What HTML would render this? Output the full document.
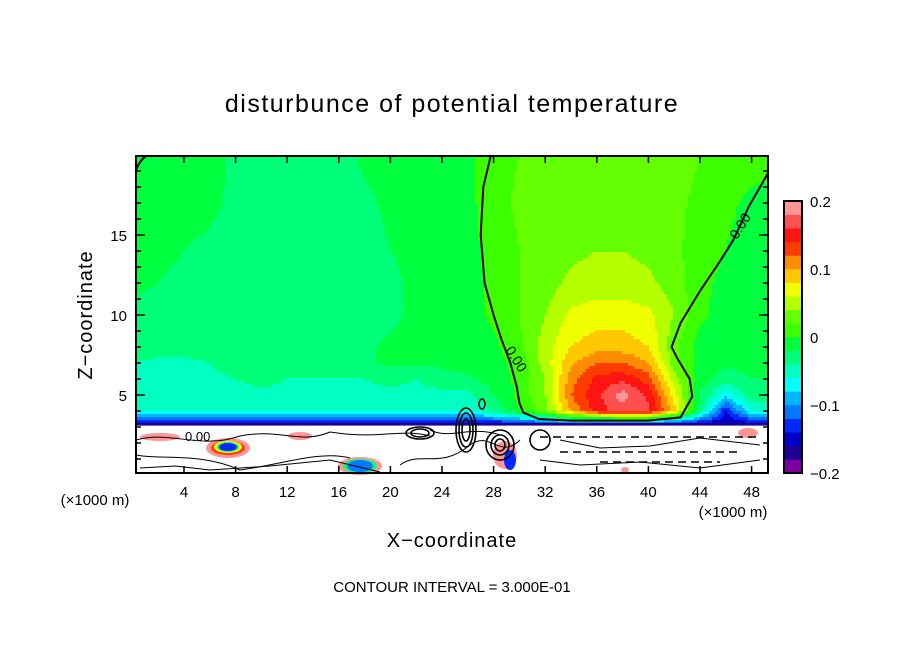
<!DOCTYPE html>
<html><head><meta charset="utf-8">
<style>
html,body{margin:0;padding:0;background:#fff;}
svg{display:block;font-family:"Liberation Sans",sans-serif;}
</style></head>
<body>
<svg id="chart" width="904" height="654" viewBox="0 0 904 654" xmlns="http://www.w3.org/2000/svg">
<rect width="904" height="654" fill="#fff"/>
<text x="452" y="112" font-size="25" text-anchor="middle" letter-spacing="1.5">disturbunce of potential temperature</text>
<g id="field"></g>
<g id="lower"></g>
<g id="contours"></g>
<g id="axes"></g>
<g id="cbar"></g>
<text x="95" y="505" font-size="15" text-anchor="middle">(×1000 m)</text>
<text x="733" y="517" font-size="15" text-anchor="middle">(×1000 m)</text>
<text x="452" y="547" font-size="20" text-anchor="middle" letter-spacing="1">X−coordinate</text>
<text transform="translate(92,315) rotate(-90)" font-size="20" text-anchor="middle" letter-spacing="1">Z−coordinate</text>
<text x="452" y="592" font-size="15" text-anchor="middle">CONTOUR INTERVAL = 3.000E-01</text>
</svg>
<script>
const xNodes=[0,2,4,6,8,10,12,14,16,18,20,22,24,26,28,30,32,34,36,38,40,42,44,46,48,50];
const zNodes=[3.3,4,5,6,7,8,10,12,14,17,20];
// values in hundredths, one row per zNode
const row0=[-13,-13,-13,-13,-13,-13,-13,-13,-13,-13,-13,-13,-13,-13,-13,-12,-10,-8,-8,-8,-8,-10,-13,-16,-14,-13];
const row1=[-6,-6,-6,-6,-6,-6,-6,-6,-6,-6,-6,-6,-6,-6,-4,0,3,10,15,17,16.5,9,-3,-14,-6,-5];
const row2=[-5,-5,-5,-5,-4.5,-4.5,-4.5,-4.5,-4.5,-4.5,-4.5,-4.5,-4.5,-4.5,-2,0.5,4,12,15.5,19,15.5,7,-2,-7,-3,-2.5];
const row3=[-4.5,-4.5,-4.5,-4.5,-4,-3.5,-4,-4,-4,-4,-3.5,-4,-3,-2.5,-1,0.5,4,11,14.5,15.5,13,5,-1,-3,-2,-2];
const row4=[-4,-4.5,-4.5,-4,-3,-3,-3,-3,-3,-2.5,-1.5,-1.5,-1.5,-1,-0.5,0.5,5,9.5,12,12,10,3,-1,-1.5,-1.5,-1.5];
const row5=[-3,-3,-3,-3,-3,-3,-3,-3,-3,-2.5,-1.5,-1.5,-1,-1,-0.5,1.5,5,8,9,9,8,2.5,-1,-1,-1,-1];
const row6=[-2.5,-3,-3,-3,-3,-3,-3,-3,-3,-3,-2.5,-1.5,-1,-1,0.5,2,4,6.5,7,7,6.5,4,0.5,-1,-1,-1];
const row7=[-1.5,-2,-2.5,-3,-3,-3,-3,-3,-3,-3,-2.5,-1.5,-1,-0.5,0.3,2,3,4.5,5,5,4.5,3,0.5,-0.5,-1,-1];
const row8=[-1.5,-1.5,-2,-2.5,-3,-3,-3,-3,-3,-3,-2,-1.5,-1,-0.5,0.5,2,3,3.5,4,4,3.5,2.5,1,0,-1,-1];
const row9=[-1,-1,-1,-1.5,-2.5,-3,-3,-3,-3,-2.5,-1.5,-1,-1,-0.5,1,2.5,3,3,3,3,3,2.5,1.5,0.5,-0.5,-1];
const row10=[-0.5,-1,-1,-1,-2.5,-3,-3,-3,-3,-1.5,-1,-1,-1,-0.5,1,2,3,3,3,3,3,3,2,1,1,1];
const rows=[row0,row1,row2,row3,row4,row5,row6,row7,row8,row9,row10];
const levelColors=["#7a00a0","#1e0096","#0000c8","#0028ff","#0078ff","#00b4ff","#00ffff","#00ffc0","#00ff78","#00ff3c","#3cff00","#64ff00","#b4ff00","#f0ff00","#ffc800","#ff8c00","#ff3c00","#ff1414","#ff5050","#ff9696"];
const cbarTicks=[-0.2,-0.1,0,0.1,0.2];
const cbarTickLabels=["−0.2","−0.1","0","0.1","0.2"];
const xTicks=[4,8,12,16,20,24,28,32,36,40,44,48];
const zTicks=[5,10,15];
const contourX=[27.8,27.2,27.0,27.3,28.0,28.6,29.3,29.8,30.0,30.3,31.5,34,37,40,42.5,43.4,43.2,42.3,41.8,42.5,44,45.5,46.6,47.8,49.3,50.2];
const contourZ=[20,18,15,12,10,8.5,7,5.5,4.5,3.9,3.5,3.4,3.4,3.4,3.6,4.9,6,7.2,8,9.5,11.5,13.3,14.7,16.8,18.9,19.4];

const NS="http://www.w3.org/2000/svg";
const L=136,R=768,T=156,B=473;
const xs=k=>132.4+12.9*k;
const zs=z=>475-16*z;
function mk(tag,attrs,parent){const e=document.createElementNS(NS,tag);for(const k in attrs)e.setAttribute(k,attrs[k]);parent.appendChild(e);return e;}
function colorFor(v){let i=Math.floor((v/100+0.2)/0.02);i=Math.max(0,Math.min(19,i));return levelColors[i];}
function sample(km,z){
  let i=0;while(i<xNodes.length-2&&km>xNodes[i+1])i++;
  let j=0;while(j<zNodes.length-2&&z>zNodes[j+1])j++;
  let tx=(km-xNodes[i])/(xNodes[i+1]-xNodes[i]);tx=Math.max(0,Math.min(1,tx));
  let tz=(z-zNodes[j])/(zNodes[j+1]-zNodes[j]);tz=Math.max(0,Math.min(1,tz));
  const a=rows[j][i],b=rows[j][i+1],c=rows[j+1][i],d=rows[j+1][i+1];
  return (a*(1-tx)+b*tx)*(1-tz)+(c*(1-tx)+d*tx)*tz;
}
// field
const field=document.getElementById('field');
const cell=3;
const zBot=zs(3.15);
function flush(x0,x1,y,h,col){
  if(!col||x1<=x0)return;
  const r=mk('rect',{x:x0,y:y,width:x1-x0+0.3,height:h+0.3,fill:col},field);
  
  
}
for(let y=T;y<zBot;y+=cell){
  const h=Math.min(cell,zBot-y);
  const z=(475-(y+h/2))/16;
  let runStart=L,runCol=null;
  for(let x=L;x<R;x+=cell){
    const km=(x+cell/2-132.4)/12.9;
    const col=colorFor(sample(km,z));
    if(col!==runCol){flush(runStart,x,y,h,runCol);runStart=x;runCol=col;}
  }
  flush(runStart,R,y,h,runCol);
}
// lower chaotic layer (decorative)
const lower=document.getElementById('lower');
mk('rect',{x:L,y:zBot,width:R-L,height:B-zBot,fill:"#fff"},lower);
mk('rect',{x:L,y:zBot-2,width:R-L,height:3,fill:"#1e0096"},lower);
const blobs=[[228,448,22,10,"#ff9696"],[228,448,17,7,"#ff3c00"],[228,447,14,6,"#f0ff00"],[228,447,11,5,"#00ff78"],[228,447,9,4,"#0028ff"],[360,466,22,9,"#ff9696"],[360,466,17,7,"#00ff78"],[360,466,13,6,"#0078ff"],[160,437,20,4,"#ff9696"],[300,436,12,4,"#ff9696"],[505,455,12,14,"#ff9696"],[510,460,6,10,"#0028ff"],[748,433,10,5,"#ff9696"],[625,470,4,3,"#ff9696"]];
blobs.forEach(b=>{const e=mk('ellipse',{cx:b[0],cy:b[1],rx:b[2],ry:b[3],fill:b[4]},lower);
  
  });
const lines=["M136,440 C170,430 200,450 240,436 C280,428 300,445 330,432 C380,440 400,428 430,436","M136,455 C160,460 200,452 240,470 C280,465 320,450 350,458","M140,468 L175,466 L210,470 L270,466 L330,460 L380,472","M400,465 C420,450 440,470 470,445 C490,430 500,460 520,440","M560,440 L600,448 L650,446 L700,438 L760,445","M540,460 L580,465 L640,462 L700,468 L760,460","M430,430 C450,440 470,425 500,435"];
lines.forEach(d=>{const e=mk('path',{d:d,fill:"none",stroke:"#000","stroke-width":1},lower);
  
  });
const dashes=["M540,437 L760,437","M560,452 L740,452","M600,462 L720,462"];
dashes.forEach(d=>{const e=mk('path',{d:d,fill:"none",stroke:"#000","stroke-width":1.5,"stroke-dasharray":"8 5"},lower);
  
  });
const rings=[[466,430,10,22],[466,430,7,17],[466,430,4,11],[420,433,14,6],[420,433,9,4],[500,445,14,15],[500,445,9,10],[500,445,5,6],[540,440,10,10]];
rings.forEach(r=>{const e=mk('ellipse',{cx:r[0],cy:r[1],rx:r[2],ry:r[3],fill:"none",stroke:"#000","stroke-width":1.6},lower);
  
  });
mk('text',{x:185,y:441,"font-size":13},lower).textContent="0.00";
// zero contour
const cg=document.getElementById('contours');
const clip=mk('clipPath',{id:"pc"},cg);mk('rect',{x:L,y:T,width:R-L,height:B-T},clip);
const pts=contourX.map((x,i)=>xs(x).toFixed(1)+","+zs(contourZ[i]).toFixed(1)).join(" ");
const pl=mk('polyline',{points:pts,fill:"none",stroke:"#000","stroke-width":2,"clip-path":"url(#pc)"},cg);


const lab1=mk('text',{transform:"translate(505,350) rotate(58)","font-size":14},cg);lab1.textContent="0.00";


const lab2=mk('text',{transform:"translate(737,240) rotate(-58)","font-size":14},cg);lab2.textContent="0.00";


mk('path',{d:"M136,170 Q140,160 146,156",fill:"none",stroke:"#000","stroke-width":2},cg);
mk('ellipse',{cx:482,cy:404,rx:3,ry:5,fill:"none",stroke:"#000","stroke-width":1.5},cg);
// axes
const ax=document.getElementById('axes');
const frame=mk('rect',{x:L,y:T,width:R-L,height:B-T,fill:"none",stroke:"#000","stroke-width":2},ax);


xTicks.forEach(t=>{
  const x=xs(t);
  mk('line',{x1:x,y1:B,x2:x,y2:B-7,stroke:"#000","stroke-width":1.5},ax);
  mk('line',{x1:x,y1:T,x2:x,y2:T+7,stroke:"#000","stroke-width":1.5},ax);
  const tx=mk('text',{x:x,y:497,"font-size":15,"text-anchor":"middle"},ax);tx.textContent=t;
  
  
});
for(let z=1;z<20;z++){
  const y=zs(z);const len=z%5===0?9:5;
  mk('line',{x1:L,y1:y,x2:L+len,y2:y,stroke:"#000","stroke-width":1.5},ax);
  mk('line',{x1:R,y1:y,x2:R-len,y2:y,stroke:"#000","stroke-width":1.5},ax);
}
zTicks.forEach(t=>{
  const ty=mk('text',{x:127,y:zs(t)+6,"font-size":15,"text-anchor":"end"},ax);ty.textContent=t;
  
  
});
// colorbar
const cb=document.getElementById('cbar');
const cT=201,cB=473,cL=784,cW=18;
const cs=v=>cB-(v+0.2)/0.4*(cB-cT);
levelColors.forEach((c,i)=>{
  const lo=-0.2+i*0.02;
  const r=mk('rect',{x:cL,y:cs(lo+0.02),width:cW,height:cs(lo)-cs(lo+0.02)+0.3,fill:c},cb);
  
  
});
mk('rect',{x:cL,y:cT,width:cW,height:cB-cT,fill:"none",stroke:"#000","stroke-width":2},cb);
cbarTicks.forEach((t,i)=>{
  const tl=mk('text',{x:810,y:cs(t)+6,"font-size":15},cb);tl.textContent=cbarTickLabels[i];
  
  
});
</script>
</body></html>
